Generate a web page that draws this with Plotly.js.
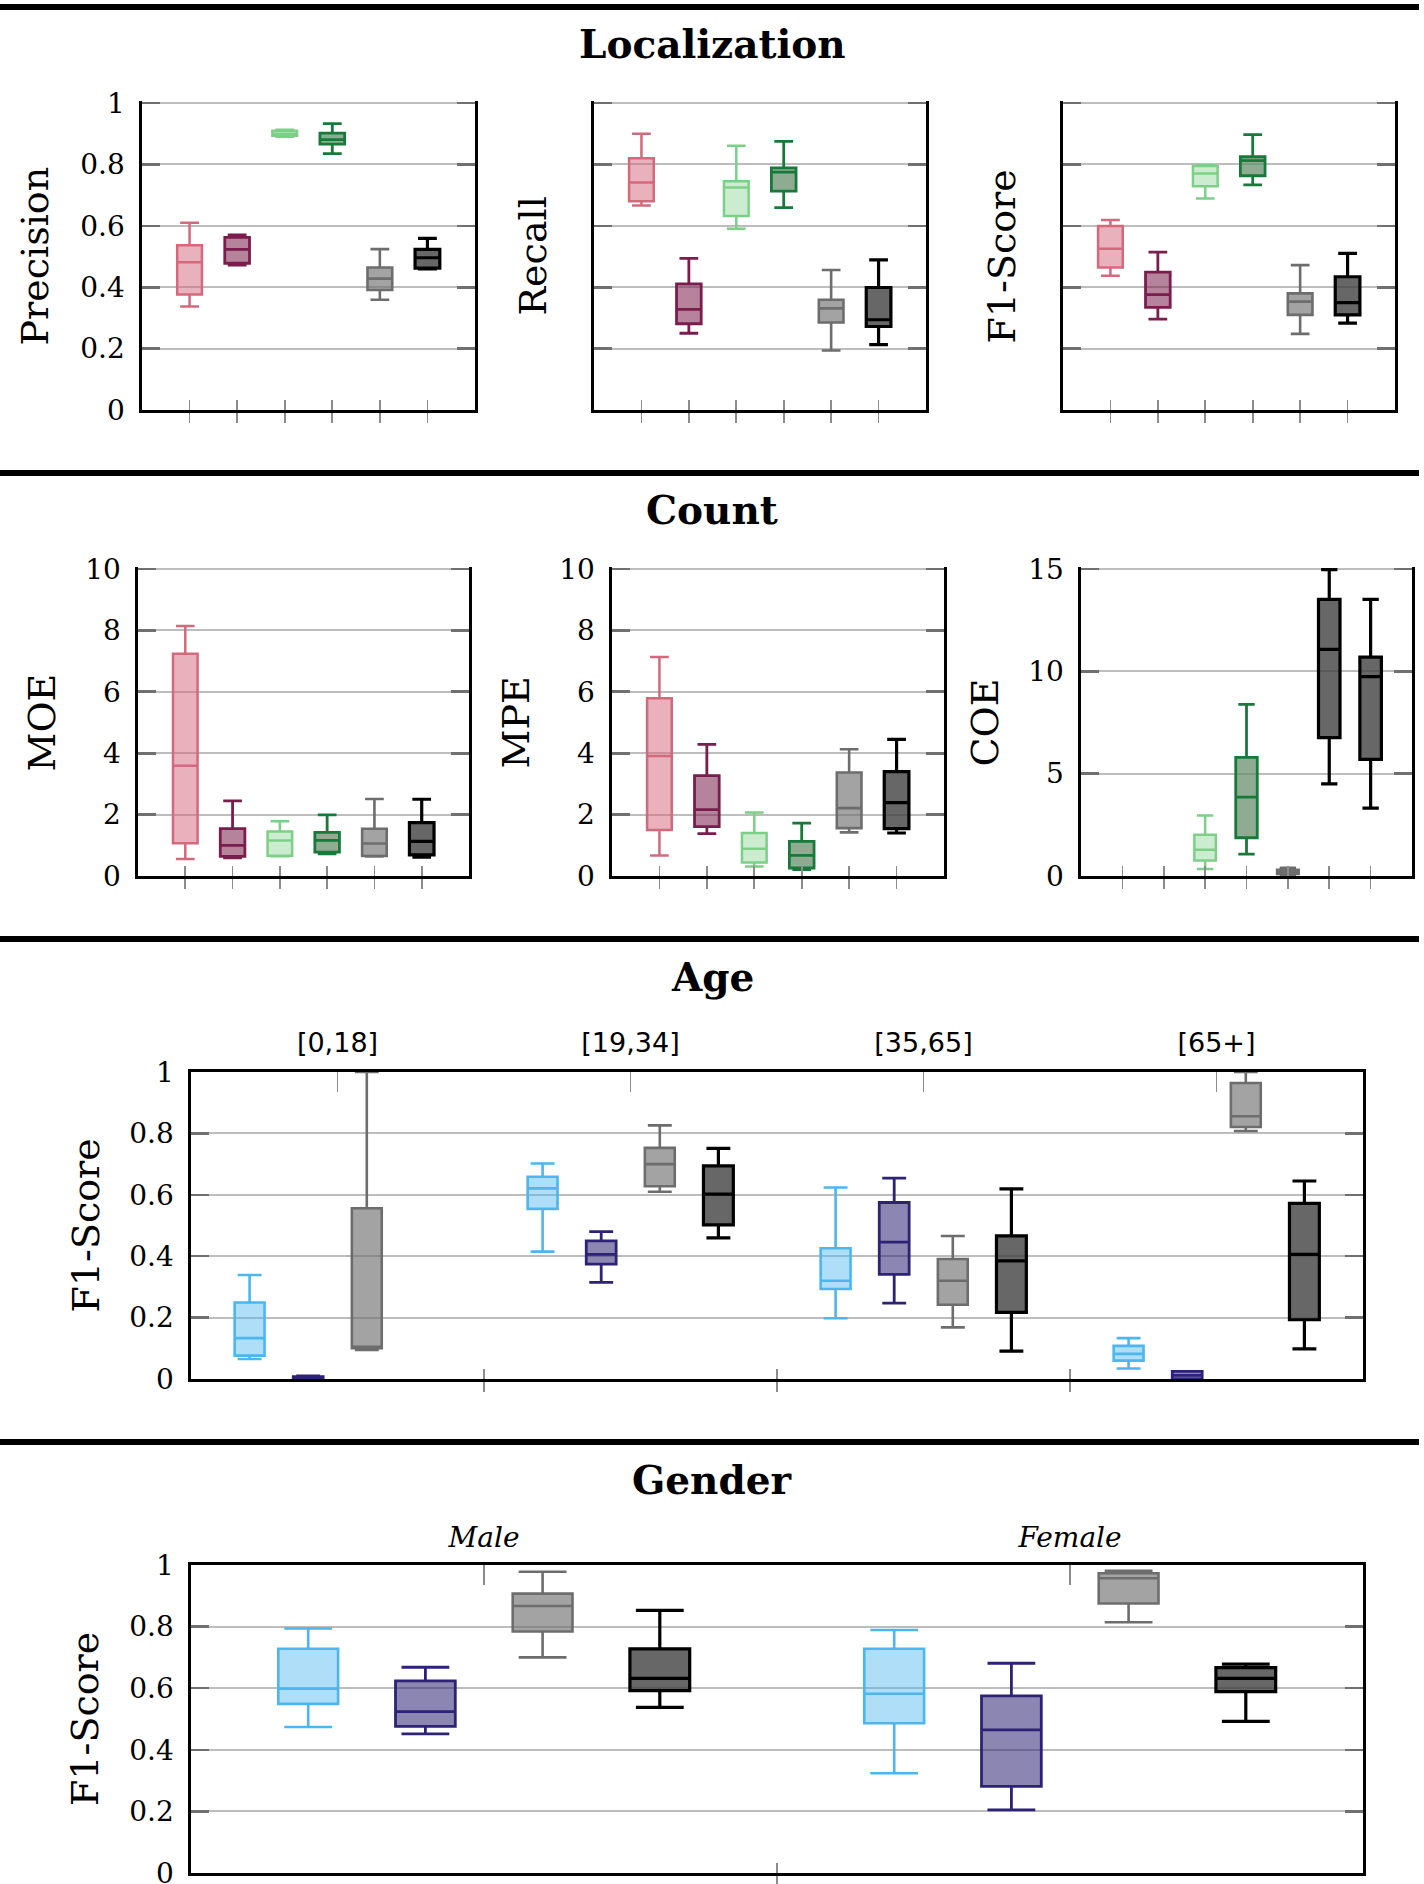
<!DOCTYPE html>
<html><head><meta charset="utf-8">
<script src="https://cdn.plot.ly/plotly-3.0.1.min.js"></script>
<style>html,body{margin:0;padding:0;background:#fff}#chart{width:1424px;height:1884px}</style>
</head><body><div id="chart"></div>
<script>
// ================= DATA =================
// Each box: [lowerfence, q1, median, q3, upperfence]; null = no box
const precisionStats = [
  [0.337, 0.376, 0.481, 0.537, 0.610],
  [0.472, 0.478, 0.523, 0.562, 0.570],
  [0.890, 0.893, 0.900, 0.910, 0.913],
  [0.835, 0.866, 0.881, 0.902, 0.933],
  [0.359, 0.391, 0.428, 0.464, 0.524],
  [0.460, 0.462, 0.496, 0.523, 0.559]
];
const recallStats = [
  [0.666, 0.680, 0.741, 0.820, 0.900],
  [0.250, 0.281, 0.328, 0.411, 0.494],
  [0.590, 0.632, 0.725, 0.745, 0.861],
  [0.659, 0.713, 0.775, 0.789, 0.875],
  [0.194, 0.285, 0.331, 0.359, 0.456],
  [0.213, 0.272, 0.294, 0.399, 0.489]
];
const f1LocStats = [
  [0.437, 0.464, 0.525, 0.599, 0.619],
  [0.296, 0.334, 0.376, 0.449, 0.514],
  [0.689, 0.729, 0.770, 0.795, 0.797],
  [0.733, 0.763, 0.812, 0.825, 0.897],
  [0.248, 0.310, 0.353, 0.380, 0.472],
  [0.283, 0.310, 0.350, 0.434, 0.510]
];
const moeStats = [
  [0.55, 1.07, 3.59, 7.24, 8.14],
  [0.59, 0.64, 1.00, 1.54, 2.45],
  [0.64, 0.66, 1.16, 1.45, 1.78],
  [0.72, 0.78, 1.16, 1.42, 1.99],
  [0.64, 0.65, 1.06, 1.54, 2.51],
  [0.61, 0.69, 1.13, 1.74, 2.50]
];
const mpeStats = [
  [0.67, 1.50, 3.91, 5.79, 7.13],
  [1.38, 1.61, 2.16, 3.27, 4.29],
  [0.31, 0.44, 0.89, 1.40, 2.07],
  [0.21, 0.26, 0.67, 1.13, 1.72],
  [1.42, 1.56, 2.21, 3.37, 4.13],
  [1.40, 1.54, 2.39, 3.40, 4.45]
];
const coeStats = [
  null,
  null,
  [0.34, 0.76, 1.28, 2.02, 2.96],
  [1.07, 1.87, 3.85, 5.80, 8.39],
  [0.05, 0.10, 0.20, 0.30, 0.40],
  [4.50, 6.76, 11.07, 13.52, 14.97],
  [3.32, 5.70, 9.74, 10.69, 13.52]
];

const ageGroups = ['[0,18]', '[19,34]', '[35,65]', '[65+]'];
const ageLightBlue = [
  [0.065, 0.076, 0.133, 0.249, 0.339],
  [0.415, 0.554, 0.621, 0.659, 0.702],
  [0.198, 0.293, 0.320, 0.426, 0.624],
  [0.034, 0.060, 0.082, 0.108, 0.133]
];
const agePurple = [
  [0.000, 0.000, 0.004, 0.008, 0.010],
  [0.315, 0.374, 0.406, 0.450, 0.480],
  [0.247, 0.341, 0.446, 0.575, 0.654],
  [0.000, 0.000, 0.012, 0.025, 0.025]
];
const ageGray = [
  [0.095, 0.100, 0.105, 0.556, 1.000],
  [0.610, 0.628, 0.700, 0.753, 0.826],
  [0.168, 0.242, 0.320, 0.391, 0.466],
  [0.808, 0.821, 0.856, 0.964, 1.000]
];
const ageBlack = [
  null,
  [0.460, 0.502, 0.602, 0.694, 0.751],
  [0.091, 0.217, 0.385, 0.466, 0.619],
  [0.098, 0.193, 0.406, 0.572, 0.645]
];

const genderGroups = ['Male', 'Female'];
const genderLightBlue = [
  [0.474, 0.549, 0.598, 0.728, 0.794],
  [0.324, 0.486, 0.582, 0.728, 0.789]
];
const genderPurple = [
  [0.452, 0.476, 0.524, 0.624, 0.668],
  [0.205, 0.281, 0.465, 0.575, 0.681]
];
const genderGray = [
  [0.700, 0.784, 0.867, 0.907, 0.978],
  [0.814, 0.875, 0.957, 0.973, 0.981]
];
const genderBlack = [
  [0.538, 0.592, 0.632, 0.728, 0.853],
  [0.492, 0.589, 0.632, 0.667, 0.678]
];

const sectionTitles = ['Localization', 'Count', 'Age', 'Gender'];
const rowOneTitles = ['Precision', 'Recall', 'F1-Score'];
const rowTwoTitles = ['MOE', 'MPE', 'COE'];
const demoTitle = 'F1-Score';

// ================= STYLES =================
const FONT = 'DejaVu Serif';
const W = 1424, H = 1884;
const ST = {
  pink:   {line: '#d4697d', fill: 'rgba(212,105,125,0.52)', w: 2.5},
  maroon: {line: '#7a1d4c', fill: 'rgba(122,29,76,0.55)', w: 2.8},
  lgreen: {line: '#7dcf88', fill: 'rgba(125,207,136,0.40)', w: 2.5},
  dgreen: {line: '#17793a', fill: 'rgba(100,140,105,0.72)', w: 2.8},
  gray:   {line: '#6d6d6d', fill: 'rgba(110,110,110,0.63)', w: 2.6},
  black:  {line: '#000000', fill: 'rgba(60,60,60,0.78)', w: 3.2},
  lblue:  {line: '#4db6ef', fill: 'rgba(77,182,239,0.45)', w: 2.6},
  purple: {line: '#2d2275', fill: 'rgba(45,34,117,0.55)', w: 2.8}
};
const locStyles = [ST.pink, ST.maroon, ST.lgreen, ST.dgreen, ST.gray, ST.black];
const coeStyles = [ST.pink, ST.maroon, ST.lgreen, ST.dgreen, ST.gray, ST.black, ST.black];
const demoStyles = [ST.lblue, ST.purple, ST.gray, ST.black];

const px = (a, b) => [a / W, b / W];
const py = (top, bottom) => [1 - bottom / H, 1 - top / H];
const ref = (l, n) => l + (n === 1 ? '' : n);
const key = (l, n) => l + 'axis' + (n === 1 ? '' : n);

const traces = [];
const layout = {
  width: W, height: H, margin: {l: 0, r: 0, t: 0, b: 0},
  paper_bgcolor: '#fff', plot_bgcolor: 'rgba(0,0,0,0)',
  showlegend: false, boxmode: 'group', boxgap: 0.2, boxgroupgap: 0.49,
  font: {family: FONT, color: '#000'},
  annotations: [], shapes: []
};

function xMain(dom, yR, range, vals, mirror) {
  return {domain: dom, anchor: yR, range, type: 'linear', tickmode: 'array', tickvals: vals,
    ticks: 'outside', ticklen: 10, tickwidth: 1.6, tickcolor: '#8c8c8c', showticklabels: false,
    showline: true, linecolor: '#000', linewidth: 2.6, mirror, showgrid: false, zeroline: false};
}
function xInner(xR, yR, range, vals) {
  return {overlaying: xR, anchor: yR, range, type: 'linear', tickmode: 'array', tickvals: vals,
    ticks: 'inside', ticklen: 10, tickwidth: 1.6, tickcolor: '#8c8c8c', showticklabels: false,
    showline: false, showgrid: false, zeroline: false};
}
function yAx(dom, xR, range, dtick, labels) {
  return {domain: dom, anchor: xR, range, tick0: 0, dtick, ticks: 'inside', ticklen: 18, tickwidth: 2.6,
    tickcolor: '#707070', showline: true, linecolor: '#000', linewidth: 2.6, mirror: 'ticks',
    showgrid: true, gridcolor: '#bdbdbd', gridwidth: 2, zeroline: false, showticklabels: labels,
    tickfont: {family: FONT, size: 28, color: '#000'}, ticklabelstandoff: 9, ticklabeloverflow: 'allow'};
}
function boxTrace(xR, yR, xs, stats, st, extra) {
  return Object.assign({type: 'box', xaxis: xR, yaxis: yR, x: xs,
    lowerfence: stats.map(s => s[0]), q1: stats.map(s => s[1]), median: stats.map(s => s[2]),
    q3: stats.map(s => s[3]), upperfence: stats.map(s => s[4]),
    line: {color: st.line, width: st.w}, fillcolor: st.fill, boxpoints: false,
    hoverinfo: 'skip', showlegend: false}, extra);
}
// empty helper trace so that an overlaying (tick-only) axis gets drawn
function axisHolder(xR, yR) {
  return {type: 'scatter', mode: 'markers', x: [], y: [], xaxis: xR, yaxis: yR,
    hoverinfo: 'skip', showlegend: false};
}

function smallPanel(n, xr, yr, stats, styles, yTop, dtick, labels, title, titleX) {
  const xR = ref('x', n), yR = ref('y', n), inner = 10 + n;
  const cats = stats.map((s, i) => i + 1);
  const range = [0, stats.length + 1];
  // a little headroom so the top gridline (at yTop) is drawn, as in the original
  const pad = 2.5, h = yr[1] - yr[0];
  layout[key('x', n)] = xMain(px(xr[0], xr[1]), yR, range, cats, false);
  layout[key('x', inner)] = xInner(xR, yR, range, cats);
  layout[key('y', n)] = yAx(py(yr[0] - pad, yr[1]), xR, [0, yTop * (h + pad) / h], dtick, labels);
  stats.forEach((s, i) => {
    if (!s) return;
    traces.push(boxTrace(xR, yR, [cats[i]], [s], styles[i], {width: 0.52, whiskerwidth: 0.76}));
  });
  traces.push(axisHolder(ref('x', inner), yR));
  layout.annotations.push({text: title, xref: 'paper', yref: 'paper', x: titleX / W,
    y: 1 - (yr[0] + yr[1]) / 2 / H, textangle: -90, showarrow: false,
    xanchor: 'center', yanchor: 'middle', font: {family: FONT, size: 38, color: '#000'}});
}

function groupPanel(n, xr, yr, groups, series, labelFont, tickStandoff) {
  const xR = ref('x', n), yR = ref('y', n);
  const range = [-0.5, groups.length - 0.5];
  const bounds = groups.slice(1).map((g, i) => i + 0.5);
  layout[key('x', n)] = xMain(px(xr[0], xr[1]), yR, range, bounds, true);
  layout[key('x', 10 + n)] = xInner(xR, yR, range, bounds);
  layout[key('x', 20 + n)] = {overlaying: xR, anchor: yR, side: 'top', range, type: 'linear',
    tickmode: 'array', tickvals: groups.map((g, i) => i), ticktext: groups,
    ticks: 'inside', ticklen: 20, tickwidth: 1.6, tickcolor: '#8c8c8c',
    showline: false, showgrid: false, zeroline: false, tickfont: labelFont, ticklabelstandoff: tickStandoff};
  layout[key('y', n)] = yAx(py(yr[0], yr[1]), xR, [0, 1], 0.2, true);
  series.forEach((ser, k) => {
    const xs = [], st = [];
    ser.forEach((s, g) => { if (s) { xs.push(g); st.push(s); } });
    traces.push(boxTrace(xR, yR, xs, st, demoStyles[k],
      {offsetgroup: 'g' + k, alignmentgroup: 'a' + n, whiskerwidth: 0.8}));
  });
  traces.push(axisHolder(ref('x', 10 + n), yR));
  traces.push(axisHolder(ref('x', 20 + n), yR));
  layout.annotations.push({text: demoTitle, xref: 'paper', yref: 'paper', x: 85 / W,
    y: 1 - (yr[0] + yr[1]) / 2 / H, textangle: -90, showarrow: false,
    xanchor: 'center', yanchor: 'middle', font: {family: FONT, size: 38, color: '#000'}});
}

// Row 1 - Localization
smallPanel(1, [142, 475], [103, 410], precisionStats, locStyles, 1, 0.2, true, rowOneTitles[0], 35);
smallPanel(2, [594, 926], [103, 410], recallStats, locStyles, 1, 0.2, false, rowOneTitles[1], 533);
smallPanel(3, [1063, 1395], [103, 410], f1LocStats, locStyles, 1, 0.2, false, rowOneTitles[2], 1002);
// Row 2 - Count
smallPanel(4, [138, 469], [569, 876], moeStats, locStyles, 10, 2, true, rowTwoTitles[0], 41);
smallPanel(5, [612, 944], [569, 876], mpeStats, locStyles, 10, 2, true, rowTwoTitles[1], 515);
smallPanel(6, [1081, 1412], [569, 876], coeStats, coeStyles, 15, 5, true, rowTwoTitles[2], 984);
// Row 3 - Age
groupPanel(7, [191, 1363], [1072, 1379], ageGroups, [ageLightBlue, agePurple, ageGray, ageBlack],
  {family: 'DejaVu Sans', size: 27, color: '#000'}, 14);
// Row 4 - Gender
groupPanel(8, [191, 1363], [1565, 1873], genderGroups, [genderLightBlue, genderPurple, genderGray, genderBlack],
  {family: FONT, size: 28, color: '#000', style: 'italic'}, 11);

// Section titles and rules
const titleY = [44, 510, 977, 1480];
const ruleY = [7, 473, 939, 1442];
sectionTitles.forEach((t, i) => {
  layout.annotations.push({text: '<b>' + t + '</b>', xref: 'paper', yref: 'paper', x: 0.5,
    y: 1 - titleY[i] / H, showarrow: false, xanchor: 'center', yanchor: 'middle',
    font: {family: FONT, size: 39, color: '#000'}});
  layout.shapes.push({type: 'line', xref: 'paper', yref: 'paper', x0: 0, x1: 1419 / W,
    y0: 1 - ruleY[i] / H, y1: 1 - ruleY[i] / H, line: {color: '#000', width: 6}});
});

Plotly.newPlot('chart', traces, layout, {staticPlot: true, displayModeBar: false});
</script></body></html>
